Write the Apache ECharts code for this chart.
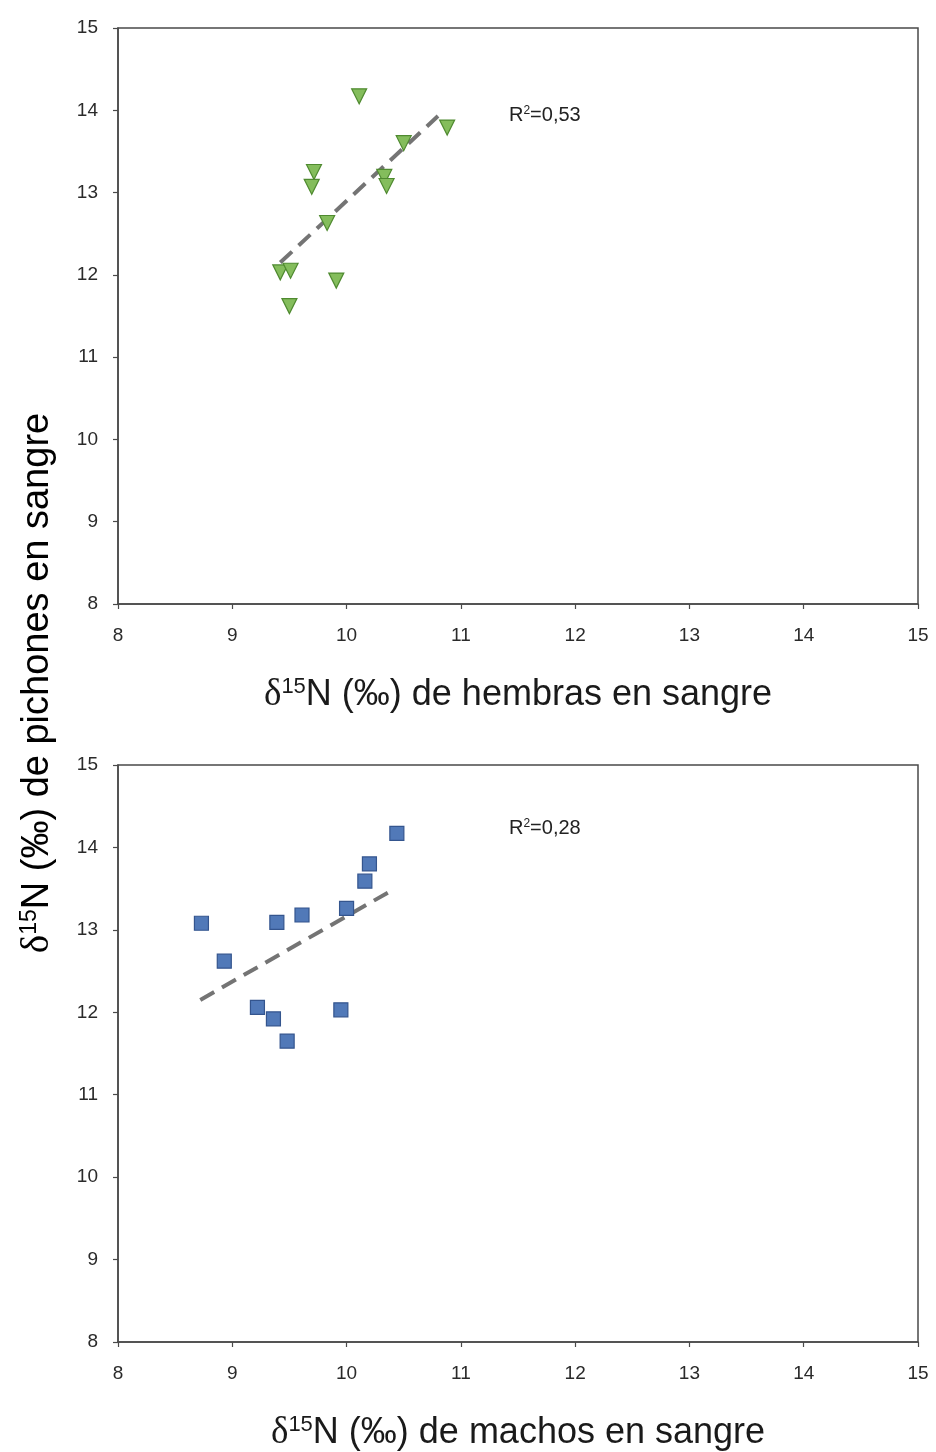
<!DOCTYPE html>
<html>
<head>
<meta charset="utf-8">
<script src="https://cdn.jsdelivr.net/npm/echarts@6/dist/echarts.min.js"></script>
<style>
  html, body { margin: 0; padding: 0; background: #fff; }
  #chart { width: 936px; height: 1452px; }
</style>
</head>
<body>
<div id="chart"></div>
<script>
// Females vs chicks (blood δ15N, ‰)
const hembrasX = [10.11, 10.88, 10.50, 9.715, 9.695, 10.33, 10.35, 9.83, 9.42, 9.51, 9.91, 9.50];
const hembrasY = [14.17, 13.79, 13.60, 13.25, 13.07, 13.19, 13.08, 12.63, 12.03, 12.05, 11.93, 11.62];
const hembrasFit = [[9.42, 12.15], [10.80, 13.93]];
const hembrasR2 = '0,53';

// Males vs chicks (blood δ15N, ‰)
const machosX = [10.44, 10.20, 10.16, 10.00, 9.61, 9.39, 8.73, 8.93, 9.22, 9.36, 9.48, 9.95];
const machosY = [14.17, 13.80, 13.59, 13.26, 13.18, 13.09, 13.08, 12.62, 12.06, 11.92, 11.65, 12.03];
const machosFit = [[8.72, 12.15], [10.41, 13.49]];
const machosR2 = '0,28';

const axisMin = 8, axisMax = 15, axisStep = 1;

const pairs = (xs, ys) => xs.map((x, i) => [x, ys[i]]);

const axisColor = '#4a4a4a';
const font = 'Arial, "Liberation Sans", sans-serif';
const tickFont = { color: '#2a2a2a', fontSize: 19, fontFamily: font };

function valueAxis(gridIndex, extra) {
  return Object.assign({
    type: 'value', gridIndex, min: axisMin, max: axisMax, interval: axisStep,
    axisLine: { show: true, onZero: false, lineStyle: { color: axisColor, width: 1.5 } },
    axisTick: { show: true, length: 5, lineStyle: { color: axisColor, width: 1.2 } },
    splitLine: { show: false }
  }, extra);
}

function titleRich(size) {
  return {
    d: { fontSize: size + 1, fontFamily: '"Liberation Serif", "DejaVu Serif", serif', color: '#1a1a1a' },
    sup: { fontSize: Math.round(size * 0.6), fontFamily: font, color: '#1a1a1a', verticalAlign: 'top', padding: [0, 0, Math.round(size * 0.46), 0] },
    t: { fontSize: size, fontFamily: font, color: '#1a1a1a' }
  };
}

function xTitle(label) {
  return {
    name: '{d|δ}{sup|15}{t|N (‰) de ' + label + ' en sangre}',
    nameLocation: 'middle', nameGap: 72,
    nameTextStyle: { rich: titleRich(36) }
  };
}

const fitStyle = { color: '#747474', width: 4, type: [16, 9] };

const r2Style = (value) => ({
  text: 'R{s|2}=' + value, fontSize: 20, fontFamily: font, fill: '#222',
  rich: { s: { fontSize: 12, fontFamily: font, fill: '#222', verticalAlign: 'top', padding: [0, 0, 9, 0] } }
});

const gridBase = {
  left: 118, width: 800, show: true, borderColor: axisColor, borderWidth: 1.5,
  backgroundColor: 'transparent', containLabel: false, outerBoundsMode: 'none'
};

const option = {
  backgroundColor: '#ffffff',
  animation: false,
  grid: [
    Object.assign({ top: 28, height: 576 }, gridBase),
    Object.assign({ top: 765, height: 577 }, gridBase)
  ],
  xAxis: [
    valueAxis(0, Object.assign({ axisLabel: Object.assign({ margin: 22 }, tickFont) }, xTitle('hembras'))),
    valueAxis(1, Object.assign({ axisLabel: Object.assign({ margin: 22 }, tickFont) }, xTitle('machos')))
  ],
  yAxis: [
    valueAxis(0, { axisLabel: Object.assign({ margin: 20 }, tickFont) }),
    valueAxis(1, { axisLabel: Object.assign({ margin: 20 }, tickFont) })
  ],
  series: [
    {
      type: 'line', xAxisIndex: 0, yAxisIndex: 0, data: hembrasFit,
      symbol: 'none', lineStyle: fitStyle, z: 2
    },
    {
      type: 'scatter', xAxisIndex: 0, yAxisIndex: 0, data: pairs(hembrasX, hembrasY),
      symbol: 'triangle', symbolRotate: 180, symbolSize: 15,
      itemStyle: { color: '#84bd5c', borderColor: '#4f8a30', borderWidth: 1.2, opacity: 1 }, z: 3
    },
    {
      type: 'line', xAxisIndex: 1, yAxisIndex: 1, data: machosFit,
      symbol: 'none', lineStyle: fitStyle, z: 2
    },
    {
      type: 'scatter', xAxisIndex: 1, yAxisIndex: 1, data: pairs(machosX, machosY),
      symbol: 'rect', symbolSize: 14,
      itemStyle: { color: '#5179b8', borderColor: '#34558e', borderWidth: 1.2, opacity: 1 }, z: 3
    }
  ],
  graphic: [
    {
      type: 'text', x: 38, y: 683, rotation: Math.PI / 2,
      style: {
        text: '{d|δ}{sup|15}{t|N (‰) de pichones en sangre}',
        rich: titleRich(38), align: 'center', verticalAlign: 'middle'
      }
    },
    { type: 'text', x: 509, y: 105, style: r2Style(hembrasR2) },
    { type: 'text', x: 509, y: 818, style: r2Style(machosR2) }
  ]
};

echarts.init(document.getElementById('chart'), null, { renderer: 'canvas' }).setOption(option);
</script>
</body>
</html>
